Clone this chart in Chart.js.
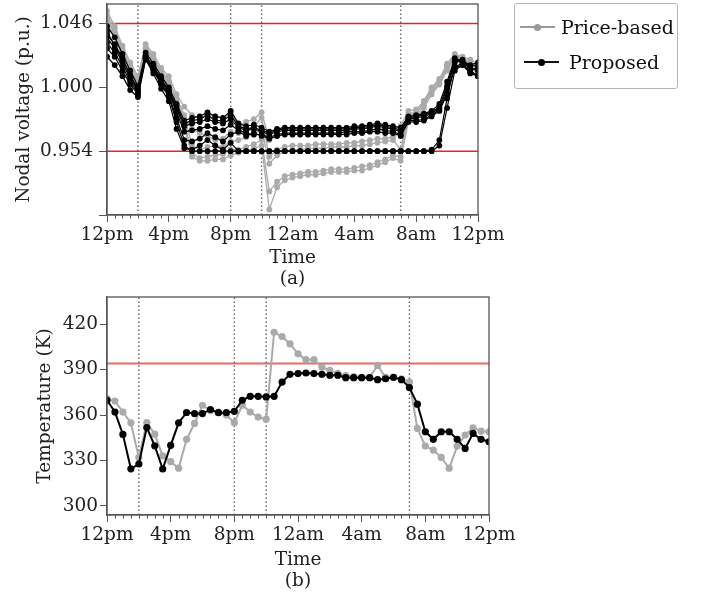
<!DOCTYPE html>
<html>
<head>
<title>Nodal voltage and temperature</title>
<script src="https://cdn.jsdelivr.net/npm/chart.js"></script>
<style>
  body { margin: 0; background: #fff; font-family: 'DejaVu Serif', serif; }
  #top { position: absolute; left: 0; top: 0; width: 520px; height: 292px; }
  #bottom { position: absolute; left: 0; top: 290px; width: 520px; height: 307px; }
  #legend { position: absolute; left: 514px; top: 3px; width: 164px; height: 86px;
            box-sizing: border-box; border: 1px solid #b5b5b5; border-radius: 3px; }
  .ln { position: absolute; }
  .dot { position: absolute; width: 7px; height: 7px; border-radius: 50%; }
  .lbl { position: absolute; font-size: 19px; line-height: 22px; color: #111; white-space: nowrap; }
</style>
</head>
<body>
<div id="top"><canvas id="voltChart"></canvas></div>
<div id="bottom"><canvas id="tempChart"></canvas></div>

<div id="legend"></div>
<div class="ln" style="left:520px; top:26px; width:35px; height:2px; background:#999;"></div>
<div class="dot" style="left:534px; top:23.5px; background:#999;"></div>
<div class="lbl" style="left:561px; top:16px;">Price-based</div>
<div class="ln" style="left:524px; top:61px; width:35px; height:1.5px; background:#111;"></div>
<div class="dot" style="left:538px; top:58.5px; background:#000;"></div>
<div class="lbl" style="left:569px; top:51px;">Proposed</div>

<script>
// time axis: hours after 12pm, every 30 minutes
const hours = [0, 0.5, 1, 1.5, 2, 2.5, 3, 3.5, 4, 4.5, 5, 5.5, 6, 6.5, 7, 7.5, 8, 8.5, 9, 9.5,
  10, 10.5, 11, 11.5, 12, 12.5, 13, 13.5, 14, 14.5, 15, 15.5, 16, 16.5, 17, 17.5, 18, 18.5, 19, 19.5,
  20, 20.5, 21, 21.5, 22, 22.5, 23, 23.5, 24];
const majorHours = [0, 4, 8, 12, 16, 20, 24];
const timeLabels = ['12pm', '4pm', '8pm', '12am', '4am', '8am', '12pm'];
const eventHours = [2, 8, 10, 19];

// (a) nodal voltages, p.u.
const voltTicks = [0.908, 0.954, 1.000, 1.046];
const voltLabels = ['', '0.954', '1.000', '1.046'];
const voltLimits = [0.954, 1.046];
const voltRange = [0.908, 1.060];

const priceV1 = [1.055,1.044,1.030,1.018,1.008,1.031,1.024,1.014,1.008,0.995,0.986,
  0.980,0.978,0.980,0.979,0.977,0.982, 0.972,0.975,0.977,0.982,
  0.962,0.965,0.966,0.966,0.966,0.966,0.967,0.967,0.967,0.967,0.967,0.968,0.968,0.969,0.970,0.970,0.970,
  0.972,0.983,0.984,0.990,1.000,1.006,1.017,1.024,1.022,1.020,1.017];
const priceV2 = [1.050,1.040,1.026,1.014,1.004,1.028,1.021,1.011,1.003,0.990,0.978,
  0.970,0.967,0.965,0.962,0.963,0.968, 0.967,0.969,0.972,0.978,
  0.950,0.955,0.957,0.958,0.958,0.958,0.959,0.959,0.959,0.959,0.960,0.960,0.961,0.962,0.963,0.963,0.964,
  0.968,0.981,0.982,0.988,0.998,1.004,1.015,1.022,1.021,1.017,1.013];
const priceV3 = [1.046,1.036,1.022,1.010,1.002,1.026,1.019,1.009,1.000,0.986,0.972,
  0.950,0.947,0.947,0.948,0.948,0.951, 0.953,0.954,0.956,0.958,
  0.912,0.928,0.933,0.935,0.936,0.937,0.937,0.938,0.939,0.939,0.939,0.940,0.940,0.942,0.944,0.946,0.949,
  0.947,0.976,0.977,0.985,0.995,1.002,1.012,1.020,1.018,1.014,1.010];
const priceV4 = [1.048,1.038,1.024,1.012,1.003,1.027,1.020,1.010,1.001,0.988,0.975,
  0.952,0.949,0.950,0.951,0.952,0.955, 0.955,0.957,0.959,0.962,
  0.925,0.932,0.936,0.937,0.938,0.939,0.939,0.940,0.941,0.941,0.941,0.942,0.943,0.944,0.946,0.948,0.951,
  0.950,0.978,0.979,0.987,0.997,1.003,1.014,1.021,1.019,1.015,1.011];
const priceV5 = [1.052,1.042,1.028,1.016,1.006,1.029,1.022,1.012,1.005,0.992,0.980,
  0.958,0.955,0.957,0.958,0.957,0.961, 0.962,0.964,0.966,0.970,
  0.945,0.951,0.954,0.955,0.955,0.956,0.956,0.956,0.957,0.957,0.957,0.958,0.958,0.959,0.960,0.961,0.962,
  0.955,0.980,0.981,0.990,0.999,1.005,1.016,1.023,1.021,1.018,1.015];

const propV1 = [1.044,1.036,1.024,1.012,1.001,1.025,1.017,1.008,1.000,0.988,0.976,
  0.978,0.979,0.982,0.979,0.978,0.983, 0.974,0.972,0.973,0.971,
  0.968,0.970,0.971,0.971,0.971,0.971,0.971,0.971,0.971,0.971,0.971,0.972,0.972,0.973,0.974,0.973,0.972,
  0.971,0.979,0.980,0.981,0.983,0.988,1.004,1.021,1.019,1.016,1.018];
const propV2 = [1.040,1.030,1.020,1.009,0.999,1.023,1.015,1.005,0.997,0.984,0.972,
  0.974,0.975,0.977,0.975,0.974,0.977, 0.971,0.969,0.970,0.968,
  0.966,0.968,0.969,0.969,0.969,0.969,0.969,0.969,0.969,0.969,0.969,0.970,0.970,0.971,0.972,0.971,0.970,
  0.968,0.977,0.978,0.979,0.981,0.985,0.999,1.019,1.018,1.013,1.014];
const propV3 = [1.036,1.028,1.018,1.006,0.997,1.022,1.014,1.004,0.996,0.982,0.968,
  0.969,0.970,0.972,0.970,0.969,0.973, 0.969,0.967,0.966,0.966,
  0.964,0.966,0.967,0.967,0.967,0.967,0.967,0.967,0.967,0.967,0.968,0.968,0.968,0.969,0.970,0.969,0.968,
  0.966,0.976,0.976,0.977,0.980,0.984,0.996,1.015,1.017,1.011,1.009];
const propV4 = [1.032,1.025,1.015,1.004,0.996,1.021,1.013,1.003,0.994,0.978,0.962,
  0.961,0.963,0.967,0.964,0.961,0.966, 0.968,0.965,0.967,0.965,
  0.963,0.965,0.966,0.966,0.966,0.966,0.966,0.966,0.966,0.966,0.966,0.967,0.967,0.968,0.968,0.967,0.967,
  0.965,0.975,0.975,0.976,0.979,0.983,0.995,1.014,1.016,1.010,1.008];
const propV5 = [1.028,1.022,1.012,1.002,0.995,1.021,1.012,1.002,0.993,0.975,0.958,
  0.954,0.954,0.954,0.954,0.954,0.954,0.954,0.954,0.954,0.954,
  0.954,0.954,0.954,0.954,0.954,0.954,0.954,0.954,0.954,0.954,0.954,0.954,0.954,0.954,0.954,0.954,0.954,
  0.954,0.954,0.954,0.954,0.955,0.962,0.992,1.018,1.020,1.014,1.012];
const propV6 = [1.022,1.016,1.008,0.998,0.993,1.020,1.010,0.999,0.990,0.970,0.956,
  0.955,0.958,0.962,0.958,0.955,0.960,0.954,0.954,0.954,0.954,
  0.954,0.954,0.954,0.954,0.954,0.954,0.954,0.954,0.954,0.954,0.954,0.954,0.954,0.954,0.954,0.954,0.954,
  0.954,0.954,0.954,0.954,0.954,0.958,0.985,1.012,1.016,1.012,1.008];
const propV7 = [1.038,1.031,1.021,1.008,0.998,1.022,1.015,1.006,0.998,0.986,0.974,
  0.976,0.977,0.980,0.976,0.976,0.980, 0.972,0.970,0.971,0.969,
  0.967,0.969,0.970,0.970,0.970,0.970,0.970,0.970,0.970,0.970,0.970,0.971,0.971,0.972,0.973,0.972,0.971,
  0.969,0.978,0.979,0.980,0.982,0.986,1.001,1.020,1.018,1.015,1.016];

// (b) temperature, K
const tempTicks = [300, 330, 360, 390, 420];
const tempLimit = 394;
const tempRange = [294, 438];
const priceTemp = [370.9,369.3,362,354.9,332,355,347.4,333,329.2,324.9,344,354.5,366.5,363,362,360,
  355,366.5,362,358.7,357.3,414.7,411.9,407,400.5,396.6,396.6,391.7,389.5,387.5,386,385.5,
  385,385,392.8,385,385,384,381.8,351.2,339.5,336.9,332,324.9,339.5,346.8,351.6,349.4,349];
const propTemp = [369.8,362,347.2,324.5,327.7,351.8,339.7,324.4,340,354.9,361.7,361,361,363.7,361.6,361.7,
  362.5,369.8,372.4,372.4,372,372.4,381.8,386.9,387.4,387.8,387.4,386.9,386.3,386.3,384.7,384.7,
  384.7,384.7,383.4,384,385,383.4,378.2,367.2,349,344,349,349,344,338,347.9,344,342.4];

const GREY = '#aaaaaa';
const BLACK = '#000000';
const AXIS = '#555555';

Chart.defaults.font.family = "'DejaVu Serif', serif";
Chart.defaults.color = '#222';

function series(vals, color, order, r, w) {
  return {
    data: vals.map((v, i) => ({ x: hours[i], y: v })),
    borderColor: color, backgroundColor: color,
    pointRadius: r, pointBorderWidth: 0, borderWidth: w,
    order: order, tension: 0
  };
}
function hline(y, color, w) {
  return { data: [{ x: 0, y: y }, { x: 24, y: y }], borderColor: color, borderWidth: w,
           pointRadius: 0, order: 10 };
}
function vline(x, range) {
  return { data: [{ x: x, y: range[0] }, { x: x, y: range[1] }], borderColor: '#6a6a6a',
           borderWidth: 1.5, borderDash: [1.5, 2.5], pointRadius: 0, order: 9 };
}

// box around the plot and small half-hour ticks
const frame = {
  id: 'frame',
  afterDraw(chart) {
    const { ctx, chartArea: a } = chart;
    const xs = chart.scales.x;
    ctx.save();
    ctx.strokeStyle = AXIS;
    ctx.lineWidth = 1.3;
    ctx.strokeRect(a.left, a.top, a.right - a.left, a.bottom - a.top);
    ctx.lineWidth = 1;
    ctx.beginPath();
    hours.forEach(h => {
      if (h % 4 === 0) return;
      const px = Math.round(xs.getPixelForValue(h)) + 0.5;
      ctx.moveTo(px, a.bottom);
      ctx.lineTo(px, a.bottom + 3.5);
    });
    ctx.stroke();
    ctx.restore();
  }
};

function noPad(s) {
  s.paddingTop = 0; s.paddingBottom = 0; s.paddingLeft = 0; s.paddingRight = 0;
}

function xAxis(title, yHeight, titlePad) {
  return {
    type: 'linear', min: 0, max: 24,
    afterBuildTicks: s => { s.ticks = majorHours.map(v => ({ value: v })); },
    afterFit: s => { s.height = yHeight; noPad(s); },
    ticks: { autoSkip: false, maxRotation: 0, padding: 2, font: { size: 18.5 }, color: '#222',
             callback: (v, i) => timeLabels[i] },
    grid: { drawOnChartArea: false, tickLength: 7, tickColor: AXIS },
    border: { color: AXIS, width: 1.3 },
    title: { display: true, text: ['Time', title], font: { size: 18.5, lineHeight: 1.15 },
             padding: { top: 0, bottom: titlePad }, color: '#222' }
  };
}

const voltSets = [
  series(propV1, BLACK, 1, 2.9, 1.2), series(propV7, BLACK, 1, 2.9, 1.2), series(propV2, BLACK, 1, 2.9, 1.2),
  series(propV3, BLACK, 1, 2.9, 1.2), series(propV4, BLACK, 1, 2.9, 1.2), series(propV5, BLACK, 1, 2.9, 1.2),
  series(propV6, BLACK, 1, 2.9, 1.2),
  series(priceV1, GREY, 2, 2.9, 1.3), series(priceV2, GREY, 2, 2.9, 1.3), series(priceV3, GREY, 2, 2.9, 1.3),
  series(priceV4, GREY, 2, 2.9, 1.3), series(priceV5, GREY, 2, 2.9, 1.3)
];
voltLimits.forEach(v => voltSets.push(hline(v, 'rgb(235,35,35)', 1.5)));
eventHours.forEach(h => voltSets.push(vline(h, voltRange)));

new Chart(document.getElementById('voltChart'), {
  type: 'line',
  data: { datasets: voltSets },
  options: {
    responsive: true, maintainAspectRatio: false, animation: false, events: [],
    layout: { padding: { top: 3, right: 42, left: 0, bottom: 0 } },
    plugins: { legend: { display: false }, tooltip: { enabled: false } },
    scales: {
      x: xAxis('(a)', 77, 2),
      y: {
        min: voltRange[0], max: voltRange[1],
        afterBuildTicks: s => { s.ticks = voltTicks.map(v => ({ value: v })); },
        afterFit: s => { s.width = 107; noPad(s); },
        ticks: { padding: 6, font: { size: 18.5 }, color: '#222', callback: (v, i) => voltLabels[i] },
        grid: { drawOnChartArea: false, tickLength: 8, tickColor: AXIS },
        border: { color: AXIS, width: 1.3 },
        title: { display: true, text: 'Nodal voltage (p.u.)', font: { size: 18.5 },
                 padding: { top: 13, bottom: 0 }, color: '#222' }
      }
    }
  },
  plugins: [frame]
});

const tempSets = [
  series(propTemp, BLACK, 1, 3.6, 2),
  series(priceTemp, GREY, 2, 3.6, 2),
  hline(tempLimit, 'rgb(236,105,105)', 2)
];
eventHours.forEach(h => tempSets.push(vline(h, tempRange)));

new Chart(document.getElementById('tempChart'), {
  type: 'line',
  data: { datasets: tempSets },
  options: {
    responsive: true, maintainAspectRatio: false, animation: false, events: [],
    layout: { padding: { top: 7, right: 31, left: 0, bottom: 0 } },
    plugins: { legend: { display: false }, tooltip: { enabled: false } },
    scales: {
      x: xAxis('(b)', 82, 5),
      y: {
        min: tempRange[0], max: tempRange[1],
        afterBuildTicks: s => { s.ticks = tempTicks.map(v => ({ value: v })); },
        afterFit: s => { s.width = 107; noPad(s); },
        ticks: { padding: 2, font: { size: 18.5 }, color: '#222' },
        grid: { drawOnChartArea: false, tickLength: 7, tickColor: AXIS },
        border: { color: AXIS, width: 1.3 },
        title: { display: true, text: 'Temperature (K)', font: { size: 18.5 },
                 padding: { top: 34, bottom: 0 }, color: '#222' }
      }
    }
  },
  plugins: [frame]
});
</script>
</body>
</html>
